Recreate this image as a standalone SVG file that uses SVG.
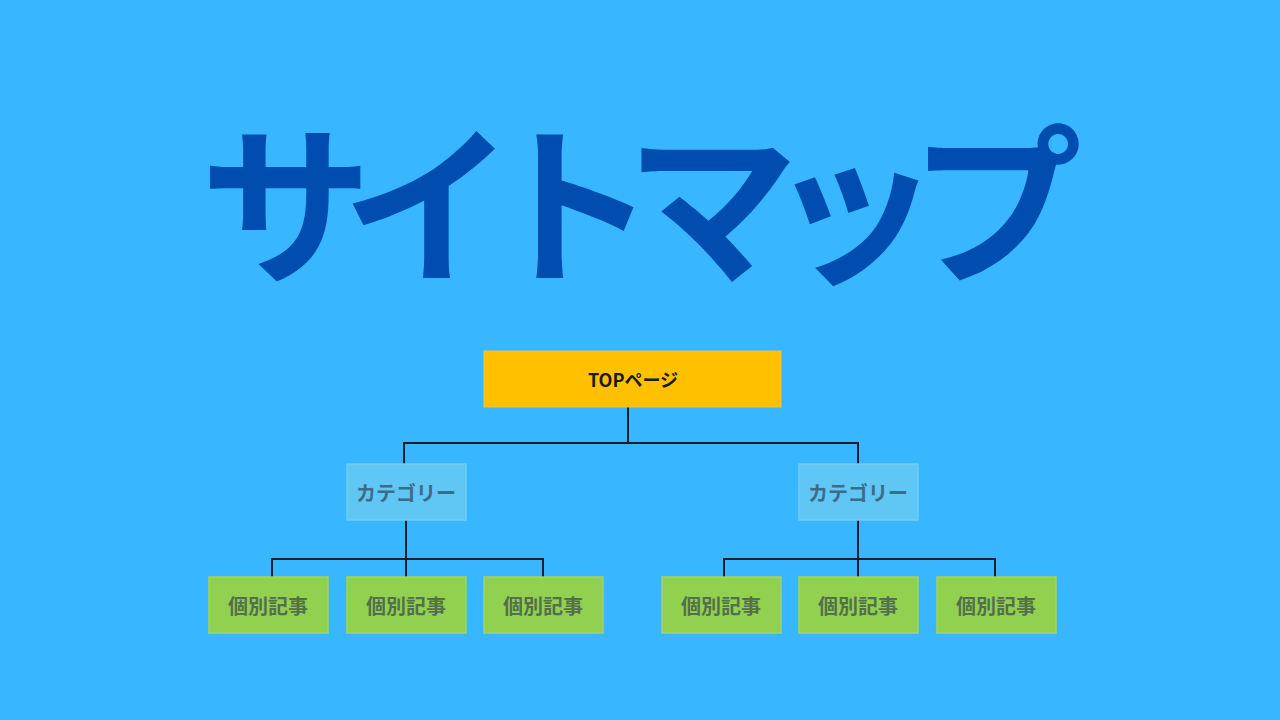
<svg xmlns="http://www.w3.org/2000/svg" width="1280" height="720" viewBox="0 0 1280 720">
<style>
.title{font-family:"Noto Sans CJK JP","Noto Sans",sans-serif;font-weight:700;font-size:172px;fill:#004DB0;letter-spacing:-30px}
.lbl{font-family:"Noto Sans CJK JP","Noto Sans",sans-serif;font-weight:700;font-size:20px;text-anchor:middle;dominant-baseline:central}
.top rect{fill:#FFC000;stroke:#F5C430;stroke-width:1}
.top text{fill:#1a1a1a;font-size:18px}
.cat rect{fill:#60C6F3;stroke:#72CCF3;stroke-width:1.5}
.cat text{fill:#3F6B8A}
.leaf rect{fill:#92D050;stroke:#9ED562;stroke-width:1.5}
.leaf text{fill:#52704A}
.conn{fill:none;stroke:#102030;stroke-width:2}
</style>
<rect width="1280" height="720" fill="#38B6FF"/>
<text class="title" x="200" y="270">サイトマップ</text>
<g id="connectors" class="conn">
<path d="M628 407V443M404 464V443H858V464"/>
<path d="M406 520V577M272 577V559H543V577"/>
<path d="M858 520V577M724 577V559H995V577"/>
</g>
<g id="top" class="top"><rect x="484" y="351" width="297" height="56"/><text class="lbl" x="633" y="379">TOPページ</text></g>
<g id="cat1" class="cat"><rect x="347" y="464" width="119" height="56"/><text class="lbl" x="406" y="492">カテゴリー</text></g>
<g id="cat2" class="cat"><rect x="799" y="464" width="119" height="56"/><text class="lbl" x="858" y="492">カテゴリー</text></g>
<g id="leaf1" class="leaf"><rect x="209" y="577" width="119" height="56"/><text class="lbl" x="268" y="605">個別記事</text></g>
<g id="leaf2" class="leaf"><rect x="347" y="577" width="119" height="56"/><text class="lbl" x="406" y="605">個別記事</text></g>
<g id="leaf3" class="leaf"><rect x="484" y="577" width="119" height="56"/><text class="lbl" x="543" y="605">個別記事</text></g>
<g id="leaf4" class="leaf"><rect x="662" y="577" width="119" height="56"/><text class="lbl" x="721" y="605">個別記事</text></g>
<g id="leaf5" class="leaf"><rect x="799" y="577" width="119" height="56"/><text class="lbl" x="858" y="605">個別記事</text></g>
<g id="leaf6" class="leaf"><rect x="937" y="577" width="119" height="56"/><text class="lbl" x="996" y="605">個別記事</text></g>
</svg>
